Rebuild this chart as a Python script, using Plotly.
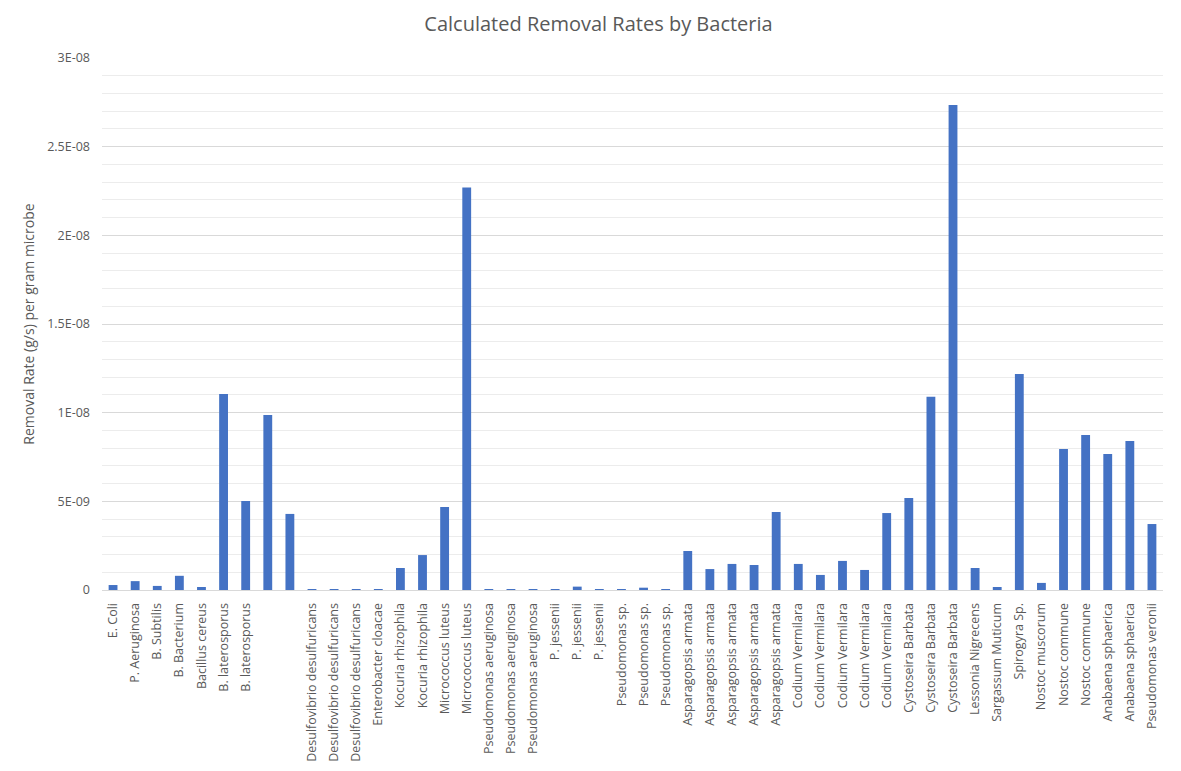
import plotly.graph_objects as go

# bacteria names (two Excel rows had no label)
bacteria = [
    "E. Coli", "P. Aeruginosa", "B. Subtilis", "B. Bacterium", "Bacillus cereus",
    "B. laterosporus", "B. laterosporus", "", "",
    "Desulfovibrio desulfuricans", "Desulfovibrio desulfuricans", "Desulfovibrio desulfuricans",
    "Enterobacter cloacae", "Kocuria rhizophila", "Kocuria rhizophila",
    "Micrococcus luteus", "Micrococcus luteus",
    "Pseudomonas aeruginosa", "Pseudomonas aeruginosa", "Pseudomonas aeruginosa",
    "P. jessenii", "P. jessenii", "P. jessenii",
    "Pseudomonas sp.", "Pseudomonas sp.", "Pseudomonas sp.",
    "Asparagopsis armata", "Asparagopsis armata", "Asparagopsis armata",
    "Asparagopsis armata", "Asparagopsis armata",
    "Codium Vermilara", "Codium Vermilara", "Codium Vermilara", "Codium Vermilara", "Codium Vermilara",
    "Cystoseira Barbata", "Cystoseira Barbata", "Cystoseira Barbata",
    "Lessonia Nigrecens", "Sargassum Muticum", "Spirogyra Sp.", "Nostoc muscorum",
    "Nostoc commune", "Nostoc commune", "Anabaena sphaerica", "Anabaena sphaerica",
    "Pseudomonas veronii",
]

# removal rate in units of 1e-9 g/s per gram microbe
rate_e9 = [
    0.28, 0.5, 0.23, 0.8, 0.17,
    11.05, 5.02, 9.87, 4.29,
    0.05, 0.05, 0.05,
    0.05, 1.24, 1.97,
    4.68, 22.7,
    0.05, 0.05, 0.05,
    0.05, 0.19, 0.05,
    0.05, 0.13, 0.05,
    2.2, 1.18, 1.47, 1.41, 4.4,
    1.47, 0.85, 1.64, 1.13, 4.34,
    5.19, 10.9, 27.35,
    1.24, 0.17, 12.18, 0.4,
    7.95, 8.74, 7.67, 8.4,
    3.72,
]

y_ticks = [0, 5e-9, 1e-8, 1.5e-8, 2e-8, 2.5e-8, 3e-8]
y_tick_text = ["0", "5E-09", "1E-08", "1.5E-08", "2E-08", "2.5E-08", "3E-08"]

rates = [v * 1e-9 for v in rate_e9]
pos = list(range(len(bacteria)))

fig = go.Figure()
fig.add_trace(go.Bar(x=pos, y=rates, marker=dict(color="#4472c4", line=dict(width=0)),
                     name="rate"))

fig.update_layout(
    width=1181, height=771,
    paper_bgcolor="white", plot_bgcolor="white",
    margin=dict(l=94, r=26, t=50, b=189),
    font=dict(family="Open Sans", color="#595959", size=12),
    title=dict(text="Calculated Removal Rates by Bacteria", x=0.5, xanchor="center",
               y=0.979, yanchor="middle", font=dict(size=20, color="#595959")),
    bargap=0.6,
    showlegend=False,
)
fig.update_xaxes(
    tickmode="array", tickvals=pos, ticktext=bacteria, tickangle=-90,
    range=[-0.5, len(bacteria) - 0.5],
    showgrid=False, showline=True, linecolor="#d9d9d9", linewidth=1,
    ticks="", tickfont=dict(size=12.5, color="#595959"), ticklabelstandoff=7,
)
fig.update_yaxes(
    range=[0, 3e-8], tickmode="array", tickvals=y_ticks, ticktext=y_tick_text,
    showgrid=True, gridcolor="#d9d9d9", gridwidth=1, zeroline=False,
    minor=dict(dtick=1e-9, showgrid=True, gridcolor="#ececec", gridwidth=1),
    ticks="", ticklabelstandoff=11, tickfont=dict(size=12.5, color="#595959"),
    title=dict(text="Removal Rate (g/s) per gram microbe", font=dict(size=14, color="#595959"),
               standoff=9),
)

fig.write_html("out.html")
